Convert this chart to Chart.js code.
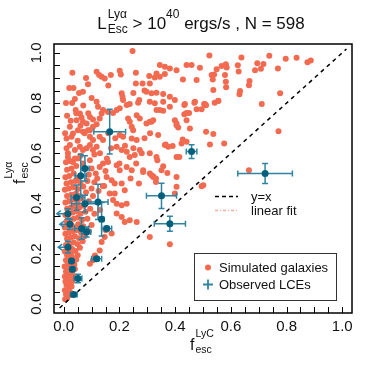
<!DOCTYPE html>
<html>
<head>
<meta charset="utf-8">
<script src="https://cdn.jsdelivr.net/npm/chart.js@4.4.0/dist/chart.umd.min.js"></script>
<style>
  html, body { margin: 0; padding: 0; background: #fff; }
  #wrap { width: 374px; height: 374px; }
</style>
</head>
<body>
<div id="wrap"><canvas id="chart" width="374" height="374"></canvas></div>
<script>
// Simulated galaxies (f_esc^LyC, f_esc^Lya)
const simX = [
  0.247, 0.523, 0.638, 0.738, 0.797, 0.836, 0.875, 0.887, 0.695, 0.717, 0.625, 0.567, 0.582, 0.585, 0.549, 0.489,
  0.531, 0.540, 0.535, 0.579, 0.628, 0.687, 0.708, 0.769, 0.582, 0.583, 0.667, 0.665, 0.537, 0.633, 0.631, 0.777,
  0.504, 0.511, 0.542, 0.555, 0.711,
  0.031, 0.118, 0.127, 0.136, 0.147, 0.169, 0.201, 0.205, 0.259, 0.345, 0.363, 0.381, 0.405, 0.441, 0.459, 0.307,
  0.333, 0.327, 0.345, 0.363, 0.428, 0.477, 0.087, 0.069, 0.040, 0.208, 0.211, 0.259, 0.283, 0.309, 0.297, 0.315,
  0.333, 0.357, 0.381, 0.399, 0.271, 0.267, 0.213, 0.226, 0.237, 0.309, 0.327, 0.435, 0.441, 0.471, 0.477, 0.507,
  0.345, 0.357, 0.043, 0.058, 0.064, 0.046, 0.069, 0.082, 0.094, 0.105, 0.118, 0.123, 0.141, 0.159, 0.177, 0.190,
  0.201, 0.136, 0.129, 0.118, 0.105, 0.094, 0.262, 0.273, 0.297, 0.309, 0.321, 0.231, 0.237, 0.244, 0.249, 0.399,
  0.405, 0.411, 0.441, 0.022, 0.010, 0.028, 0.033, 0.051, 0.069, 0.087, 0.094, 0.105, 0.129, 0.141, 0.201, 0.213,
  0.244, 0.262, 0.339, 0.363, 0.375, 0.022, 0.040, 0.058, 0.069, 0.082, 0.094, 0.105, 0.118, 0.190, 0.208, 0.226,
  0.237, 0.255, 0.273, 0.309, 0.333, 0.405, 0.423, 0.015, 0.033, 0.051, 0.069, 0.094, 0.129, 0.141, 0.159, 0.190,
  0.201, 0.226, 0.244, 0.285, 0.309, 0.321, 0.351, 0.405, 0.501,
  0.357, 0.433, 0.469, 0.507, 0.555, 0.433, 0.450, 0.495, 0.381, 0.333, 0.315, 0.405, 0.453, 0.511, 0.537, 0.427,
  0.441, 0.525, 0.576, 0.366, 0.391, 0.415, 0.336, 0.357, 0.372, 0.321, 0.331, 0.399, 0.405, 0.495, 0.665, 0.771,
  0.285, 0.315, 0.331, 0.154, 0.172, 0.183, 0.208, 0.219, 0.183, 0.177, 0.190, 0.208, 0.226, 0.190, 0.208, 0.219,
  0.237, 0.262, 0.309, 0.381, 0.172, 0.151, 0.147, 0.136, 0.129, 0.112, 0.105, 0.094,
  0.005, 0.012, 0.008, 0.018, 0.004, 0.014, 0.022, 0.010, 0.020, 0.028, 0.006, 0.016, 0.030,
  0.004, 0.012, 0.022, 0.034, 0.008, 0.018, 0.030, 0.040, 0.003, 0.014, 0.026, 0.038, 0.008, 0.020, 0.032, 0.045,
  0.012, 0.026, 0.050,
  0.004, 0.016, 0.030, 0.042, 0.058, 0.008, 0.022, 0.036, 0.050, 0.068, 0.012, 0.026, 0.040, 0.055, 0.075, 0.006,
  0.018, 0.032, 0.046, 0.062, 0.090,
  0.004, 0.014, 0.028, 0.040, 0.052, 0.070, 0.100, 0.010, 0.022, 0.036, 0.050, 0.066, 0.085, 0.006, 0.018, 0.032,
  0.046, 0.060, 0.078, 0.110, 0.012, 0.026, 0.040, 0.056, 0.072, 0.095, 0.130,
  0.006, 0.020, 0.034, 0.050, 0.064, 0.090, 0.012, 0.028, 0.044, 0.058, 0.080, 0.105, 0.004, 0.018, 0.034, 0.050,
  0.070, 0.100, 0.125, 0.010, 0.026, 0.042, 0.060, 0.085, 0.110, 0.140,
  0.006, 0.020, 0.036, 0.050, 0.090, 0.115, 0.012, 0.028, 0.045, 0.100, 0.008, 0.022, 0.040, 0.060, 0.110, 0.015,
  0.010, 0.005, 0.012, 0.008, 0.020,
  0.050, 0.075, 0.060, 0.088, 0.070, 0.100, 0.055, 0.035, 0.080, 0.045, 0.025, 0.030,
  0.130, 0.155, 0.170, 0.185, 0.160, 0.220, 0.250, 0.280, 0.200, 0.240, 0.270, 0.150, 0.120, 0.145, 0.165, 0.260,
  0.290, 0.310, 0.160, 0.290, 0.250
]
const simY = [
  1.007, 0.989, 0.981, 0.988, 0.976, 0.980, 0.962, 0.969, 0.958, 0.955, 0.950, 0.947, 0.954, 0.942, 0.935, 0.941,
  0.912, 0.914, 0.894, 0.912, 0.926, 0.931, 0.937, 0.938, 0.885, 0.863, 0.888, 0.871, 0.852, 0.848, 0.835, 0.839,
  0.796, 0.791, 0.801, 0.809, 0.796,
  0.921, 0.925, 0.912, 0.905, 0.898, 0.912, 0.929, 0.914, 0.921, 0.951, 0.945, 0.938, 0.931, 0.951, 0.951, 0.908,
  0.918, 0.902, 0.905, 0.916, 0.894, 0.892, 0.875, 0.845, 0.816, 0.839, 0.825, 0.878, 0.878, 0.878, 0.845, 0.839,
  0.841, 0.836, 0.825, 0.812, 0.812, 0.801, 0.812, 0.792, 0.796, 0.805, 0.799, 0.796, 0.761, 0.805, 0.775, 0.796,
  0.772, 0.769, 0.772, 0.759, 0.743, 0.732, 0.726, 0.719, 0.745, 0.735, 0.805, 0.785, 0.772, 0.765, 0.761, 0.772,
  0.779, 0.759, 0.739, 0.716, 0.706, 0.692, 0.752, 0.739, 0.719, 0.726, 0.732, 0.739, 0.726, 0.706, 0.692, 0.732,
  0.719, 0.703, 0.732, 0.706, 0.659, 0.666, 0.679, 0.692, 0.686, 0.692, 0.666, 0.653, 0.666, 0.653, 0.673, 0.666,
  0.659, 0.653, 0.673, 0.633, 0.626, 0.633, 0.613, 0.626, 0.613, 0.620, 0.633, 0.613, 0.626, 0.626, 0.613, 0.606,
  0.586, 0.593, 0.613, 0.600, 0.586, 0.586, 0.639, 0.586, 0.566, 0.580, 0.560, 0.573, 0.546, 0.560, 0.566, 0.553,
  0.533, 0.546, 0.533, 0.533, 0.520, 0.506, 0.533, 0.506, 0.473,
  0.805, 0.792, 0.801, 0.792, 0.808, 0.756, 0.761, 0.775, 0.785, 0.772, 0.726, 0.712, 0.699, 0.686, 0.677, 0.655,
  0.646, 0.635, 0.639, 0.635, 0.629, 0.586, 0.573, 0.549, 0.522, 0.509, 0.486, 0.440, 0.467, 0.469, 0.533, 0.688,
  0.526, 0.513, 0.500, 0.506, 0.493, 0.480, 0.480, 0.453, 0.440, 0.414, 0.400, 0.394, 0.400, 0.361, 0.347, 0.327,
  0.334, 0.327, 0.267, 0.238, 0.281, 0.294, 0.267, 0.247, 0.214, 0.194, 0.175, 0.161,
  0.020, 0.025, 0.040, 0.035, 0.055, 0.060, 0.050, 0.075, 0.080, 0.070, 0.090, 0.095, 0.090,
  0.110, 0.105, 0.115, 0.110, 0.130, 0.135, 0.128, 0.140, 0.150, 0.155, 0.160, 0.158, 0.175, 0.180, 0.185, 0.178,
  0.195, 0.200, 0.195,
  0.210, 0.215, 0.220, 0.212, 0.225, 0.235, 0.240, 0.245, 0.238, 0.250, 0.260, 0.265, 0.270, 0.262, 0.270, 0.280,
  0.285, 0.290, 0.295, 0.285, 0.290,
  0.305, 0.310, 0.315, 0.305, 0.318, 0.310, 0.315, 0.330, 0.335, 0.340, 0.345, 0.335, 0.340, 0.355, 0.360, 0.365,
  0.370, 0.360, 0.368, 0.360, 0.380, 0.385, 0.390, 0.385, 0.392, 0.380, 0.375,
  0.405, 0.410, 0.415, 0.405, 0.420, 0.410, 0.430, 0.435, 0.440, 0.430, 0.445, 0.430, 0.455, 0.460, 0.465, 0.458,
  0.468, 0.460, 0.450, 0.480, 0.485, 0.490, 0.482, 0.490, 0.485, 0.470,
  0.505, 0.510, 0.520, 0.500, 0.515, 0.520, 0.535, 0.540, 0.550, 0.540, 0.565, 0.570, 0.580, 0.590, 0.595, 0.600,
  0.620, 0.680, 0.750, 0.800, 0.860,
  0.650, 0.680, 0.710, 0.760, 0.790, 0.820, 0.840, 0.860, 0.900, 0.760, 0.730, 0.800,
  0.600, 0.580, 0.620, 0.660, 0.680, 0.630, 0.620, 0.600, 0.560, 0.500, 0.480, 0.530, 0.500, 0.470, 0.440, 0.560,
  0.660, 0.680, 0.870, 0.850, 0.840
]

// Observed LCEs with error bars; lceLimit = 1 means upper limit in x (arrow, length lceXerr)
const lceX     = [0.165, 0.459, 0.723, 0.351, 0.381, 0.061, 0.076, 0.046, 0.076, 0.123, 0.136, 0.015, 0.022, 0.064, 0.082, 0.015, 0.028, 0.031, 0.051, 0.036, 0.118, 0.154]
const lceY     = [0.686, 0.607, 0.520, 0.431, 0.320, 0.511, 0.540, 0.424, 0.400, 0.407, 0.338, 0.360, 0.318, 0.301, 0.287, 0.227, 0.172, 0.139, 0.102, 0.039, 0.181, 0.301]
const lceXerr  = [0.057, 0.019, 0.098, 0.054, 0.056, 0.020, 0.015, 0.020, 0.048, 0.036, 0.008, 0.040, 0.036, 0.025, 0.015, 0.035, 0.008, 0.008, 0.014, 0.012, 0.018, 0.018]
const lceYerr  = [0.089, 0.027, 0.040, 0.050, 0.030, 0.085, 0.050, 0.050, 0.033, 0.070, 0.067, 0.020, 0.020, 0.043, 0.020, 0.023, 0.010, 0.010, 0.017, 0.006, 0.008, 0.008]
const lceLimit = [0, 0, 0, 0, 0, 0, 0, 0, 0, 0, 0, 1, 1, 0, 0, 1, 0, 0, 0, 0, 0, 0]

// one-to-one line end points
const diagX = [-0.015, 1.015]

// axes
const axisMin = -0.035
const axisMax = 1.035
const tickValues = [0, 0.2, 0.4, 0.6, 0.8, 1.0]
const tickLabels = ['0.0', '0.2', '0.4', '0.6', '0.8', '1.0']
const minorTicks = [0, 0.05, 0.1, 0.15, 0.2, 0.25, 0.3, 0.35, 0.4, 0.45, 0.5, 0.55, 0.6, 0.65, 0.7, 0.75, 0.8, 0.85, 0.9, 0.95, 1.0]

const ORANGE = '#f26a50'
const TEAL = '#005f7b'
const TEAL_BAR = '#2f84a2'
const FONT = '"Liberation Sans", Arial, sans-serif'

// draws f with a superscript and subscript, starting at (x, y) on the baseline
function drawFesc(ctx, sup, x, y) {
  ctx.font = '16px ' + FONT
  ctx.fillText('f', x, y)
  const w = ctx.measureText('f').width + 1
  ctx.font = '10.5px ' + FONT
  ctx.fillText(sup, x + w, y - 13)
  ctx.fillText('esc', x + w, y + 3)
}

const errorBars = {
  id: 'errorBars',
  beforeDatasetDraw(chart, args) {
    if (args.index !== 0) return
    const { ctx, scales: { x, y } } = chart
    ctx.save()
    ctx.strokeStyle = TEAL_BAR
    ctx.lineWidth = 1.5
    const cap = 3
    lceX.forEach((v, i) => {
      const px = x.getPixelForValue(v)
      const py = y.getPixelForValue(lceY[i])
      const y0 = y.getPixelForValue(lceY[i] - lceYerr[i])
      const y1 = y.getPixelForValue(lceY[i] + lceYerr[i])
      ctx.beginPath()
      ctx.moveTo(px, y0); ctx.lineTo(px, y1)
      ctx.moveTo(px - cap, y0); ctx.lineTo(px + cap, y0)
      ctx.moveTo(px - cap, y1); ctx.lineTo(px + cap, y1)
      const x0 = x.getPixelForValue(v - lceXerr[i])
      if (lceLimit[i]) {
        ctx.moveTo(px, py); ctx.lineTo(x0, py)
        ctx.moveTo(x0 + 4, py - 3); ctx.lineTo(x0, py); ctx.lineTo(x0 + 4, py + 3)
      } else {
        const x1 = x.getPixelForValue(v + lceXerr[i])
        ctx.moveTo(x0, py); ctx.lineTo(x1, py)
        ctx.moveTo(x0, py - cap); ctx.lineTo(x0, py + cap)
        ctx.moveTo(x1, py - cap); ctx.lineTo(x1, py + cap)
      }
      ctx.stroke()
    })
    ctx.restore()
  }
}

const decorations = {
  id: 'decorations',
  afterDraw(chart) {
    const { ctx, chartArea: a, scales: { x, y } } = chart
    ctx.save()

    // frame
    ctx.strokeStyle = '#000'
    ctx.lineWidth = 1.5
    ctx.strokeRect(a.left, a.top, a.right - a.left, a.bottom - a.top)

    // inward ticks on bottom and left
    ctx.lineWidth = 1
    ctx.beginPath()
    minorTicks.forEach(v => {
      const px = Math.round(x.getPixelForValue(v)) + 0.5
      ctx.moveTo(px, a.bottom); ctx.lineTo(px, a.bottom - 6)
      const py = Math.round(y.getPixelForValue(v)) + 0.5
      ctx.moveTo(a.left, py); ctx.lineTo(a.left + 6, py)
    })
    ctx.stroke()

    // tick labels
    ctx.fillStyle = '#111'
    ctx.font = '15px ' + FONT
    ctx.textAlign = 'center'
    ctx.textBaseline = 'middle'
    tickValues.forEach((v, i) => {
      ctx.fillText(tickLabels[i], x.getPixelForValue(v), 327)
      ctx.save()
      ctx.translate(37, y.getPixelForValue(v))
      ctx.rotate(-Math.PI / 2)
      ctx.fillText(tickLabels[i], 0, 0)
      ctx.restore()
    })

    // axis titles
    ctx.textAlign = 'left'
    ctx.textBaseline = 'alphabetic'
    drawFesc(ctx, 'LyC', 190, 350)
    ctx.save()
    ctx.translate(25, 184)
    ctx.rotate(-Math.PI / 2)
    drawFesc(ctx, 'Ly\u03b1', 0, 0)
    ctx.restore()

    // title
    const big = '17px ' + FONT, small = '12px ' + FONT
    ctx.font = big
    const wL = ctx.measureText('L').width
    const wMid = ctx.measureText(' > 10').width
    const wEnd = ctx.measureText(' ergs/s , N = 598').width
    ctx.font = small
    const wSS = Math.max(ctx.measureText('Ly\u03b1').width, ctx.measureText('Esc').width) + 1
    const w40 = ctx.measureText('40').width
    let tx = 201 - (wL + wSS + wMid + w40 + wEnd) / 2
    const ty = 29
    ctx.font = big
    ctx.fillText('L', tx, ty); tx += wL + 1
    ctx.font = small
    ctx.fillText('Ly\u03b1', tx, ty - 11)
    ctx.fillText('Esc', tx, ty + 4)
    tx += wSS - 1
    ctx.font = big
    ctx.fillText(' > 10', tx, ty); tx += wMid
    ctx.font = small
    ctx.fillText('40', tx, ty - 11); tx += w40
    ctx.font = big
    ctx.fillText(' ergs/s , N = 598', tx, ty)

    // line legend
    ctx.font = '13px ' + FONT
    ctx.lineWidth = 1.3
    ctx.strokeStyle = '#000'
    ctx.setLineDash([4, 3])
    ctx.beginPath(); ctx.moveTo(215, 196.5); ctx.lineTo(238, 196.5); ctx.stroke()
    ctx.strokeStyle = 'rgba(242,106,80,0.55)'
    ctx.setLineDash([3, 2, 1, 2])
    ctx.beginPath(); ctx.moveTo(215, 210.5); ctx.lineTo(238, 210.5); ctx.stroke()
    ctx.setLineDash([])
    ctx.fillText('y=x', 251, 201)
    ctx.fillText('linear fit', 251, 215)

    // points legend
    ctx.strokeStyle = '#333'
    ctx.lineWidth = 1
    ctx.strokeRect(194.5, 253.5, 142, 47)
    ctx.fillStyle = ORANGE
    ctx.beginPath(); ctx.arc(208, 267.5, 3, 0, Math.PI * 2); ctx.fill()
    ctx.strokeStyle = TEAL_BAR
    ctx.lineWidth = 1.8
    ctx.beginPath()
    ctx.moveTo(203, 284.5); ctx.lineTo(213, 284.5)
    ctx.moveTo(208, 279.5); ctx.lineTo(208, 289.5)
    ctx.stroke()
    ctx.fillStyle = '#111'
    ctx.fillText('Simulated galaxies', 219, 272)
    ctx.fillText('Observed LCEs', 219, 289)

    ctx.restore()
  }
}

new Chart(document.getElementById('chart'), {
  type: 'scatter',
  data: {
    datasets: [
      {
        label: 'Observed LCEs',
        data: lceX.map((v, i) => ({ x: v, y: lceY[i] })),
        backgroundColor: TEAL,
        borderWidth: 0,
        pointRadius: 3.5
      },
      {
        label: 'y=x',
        data: diagX.map(v => ({ x: v, y: v })),
        showLine: true,
        borderColor: '#000',
        borderWidth: 1.5,
        borderDash: [4, 4],
        pointRadius: 0
      },
      {
        label: 'Simulated galaxies',
        data: simX.map((v, i) => ({ x: v, y: simY[i] })),
        backgroundColor: ORANGE,
        borderWidth: 0,
        pointRadius: 3
      }
    ]
  },
  options: {
    responsive: false,
    devicePixelRatio: 1,
    animation: false,
    layout: { padding: { left: 54, right: 22, top: 44, bottom: 61 } },
    plugins: { legend: { display: false }, tooltip: { enabled: false } },
    scales: {
      x: { type: 'linear', min: axisMin, max: axisMax, display: false },
      y: { type: 'linear', min: axisMin, max: axisMax, display: false }
    }
  },
  plugins: [errorBars, decorations]
})
</script>
</body>
</html>
